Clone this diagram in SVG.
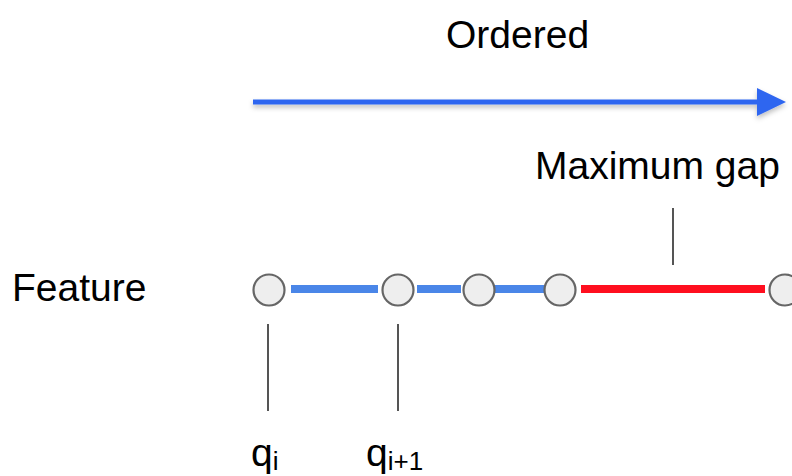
<svg xmlns="http://www.w3.org/2000/svg" width="792" height="476" viewBox="0 0 792 476">
<defs>
<style>
.t{font-family:"Liberation Sans",Arial,sans-serif;font-size:39px;fill:#000}
.node{fill:#eeeeee;stroke:#666666;stroke-width:2.2}
.tick{stroke:#555555;stroke-width:2}
.blue{stroke:#4a86e8;stroke-width:8}
.red{stroke:#ff0f1f;stroke-width:8}
</style>
<filter id="sh" x="-5%" y="-100%" width="110%" height="300%">
<feDropShadow dx="0" dy="3" stdDeviation="2.5" flood-color="#000" flood-opacity="0.25"/>
</filter>
</defs>
<rect width="792" height="476" fill="#ffffff"/>
<text class="t" x="446" y="48">Ordered</text>
<g id="ordered-arrow" filter="url(#sh)">
<line x1="253" y1="102" x2="760" y2="102" stroke="#2f66f0" stroke-width="5"/>
<polygon points="757,88 786,102 757,116" fill="#2f66f0"/>
</g>
<text class="t" x="535" y="179" font-size="40">Maximum gap</text>
<text class="t" x="12" y="301">Feature</text>
<g id="connectors">
<line class="blue" x1="291" y1="289" x2="378" y2="289"/>
<line class="blue" x1="417" y1="289" x2="461" y2="289"/>
<line class="blue" x1="494" y1="289" x2="545" y2="289"/>
<line class="red" x1="581" y1="289" x2="765" y2="289"/>
<line class="tick" x1="268" y1="324" x2="268" y2="411"/>
<line class="tick" x1="398" y1="324" x2="398" y2="411"/>
<line class="tick" x1="673" y1="208" x2="673" y2="265"/>
</g>
<g id="n1"><circle class="node" cx="269" cy="290" r="15.5"/></g>
<g id="n2"><circle class="node" cx="398" cy="290" r="15.5"/></g>
<g id="n3"><circle class="node" cx="479" cy="290" r="15.5"/></g>
<g id="n4"><circle class="node" cx="560" cy="290" r="15.5"/></g>
<g id="n5"><circle class="node" cx="785" cy="290" r="15.5"/></g>
<g id="label-qi"><text class="t" x="251" y="466" font-size="42">q<tspan font-size="26" dy="4">i</tspan></text></g>
<g id="label-qi1"><text class="t" x="366" y="466" font-size="42">q<tspan font-size="26" dy="4">i+1</tspan></text></g>
</svg>
